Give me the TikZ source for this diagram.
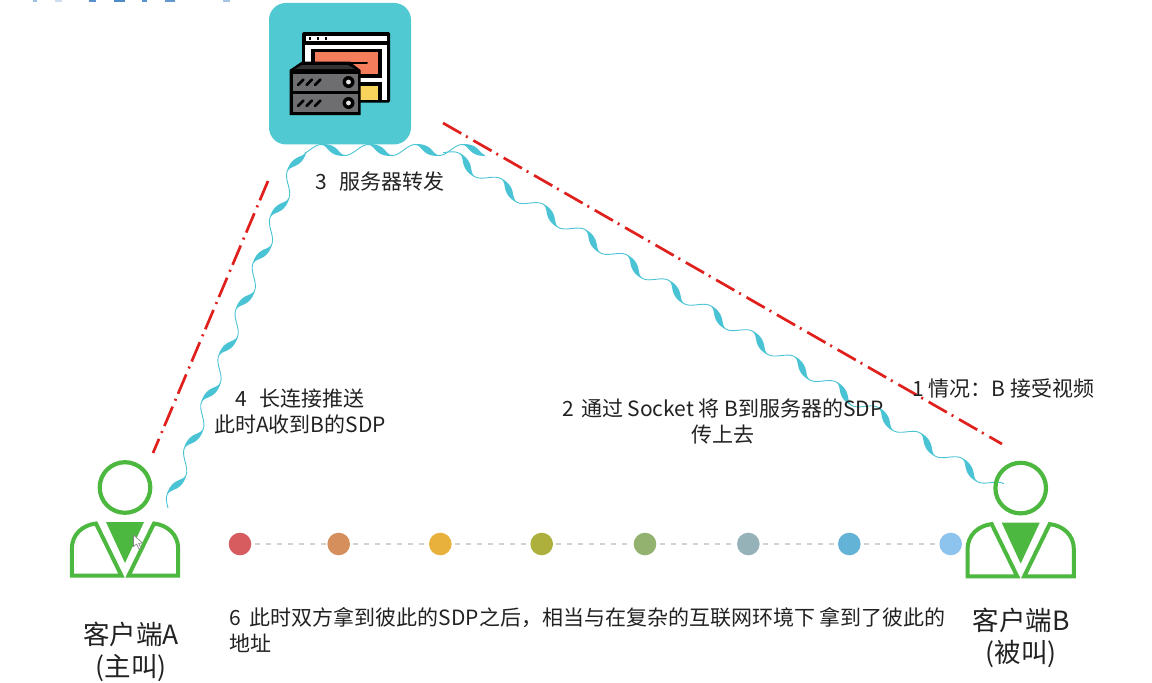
\documentclass[tikz,border=0pt]{standalone}
\usepackage{fontspec}
\setmainfont{Noto Sans CJK SC}
\usetikzlibrary{calc}
\definecolor{wavec}{HTML}{4AC4D4}
\definecolor{boxc}{HTML}{50C9D2}
\definecolor{redc}{HTML}{E0201C}
\definecolor{greenc}{HTML}{4DB83F}
\definecolor{txt}{HTML}{222222}
\definecolor{dashc}{HTML}{D3D3CD}
\definecolor{panel}{HTML}{6E6E70}
\definecolor{orangec}{HTML}{F47E5C}
\definecolor{yellowc}{HTML}{F9D45C}
\definecolor{titleb}{HTML}{3A7FC4}
\tikzset{
  label text/.style={inner sep=0pt,text=txt,align=center,font=\fontsize{21}{26}\selectfont},
  client text/.style={inner sep=0pt,text=txt,align=center,font=\fontsize{26.5}{32.5}\selectfont},
  guide/.style={draw=redc,line width=2.7pt,dash pattern=on 21pt off 5.5pt on 2pt off 6.5pt},
  dotnode/.style={circle,minimum size=22.6pt,inner sep=0pt,fill=#1},
  dotlink/.style={draw=dashc,line width=2.5pt,dash pattern=on 5pt off 6pt},
  person/.pic={
    \draw[greenc,line width=4.2pt] (0,-34.5) circle (25.3);
    \fill[greenc] (-19,0) -- (19,0) -- (0,41) -- cycle;
    \draw[greenc,line width=4pt,line join=miter]
      (-53.2,53.7) -- (-53.2,27) .. controls (-53.2,12) and (-42,3) .. (-29,1.5) -- (-3.5,53.7) -- cycle;
    \draw[greenc,line width=4pt,line join=miter]
      (53.2,53.7) -- (53.2,27) .. controls (53.2,12) and (42,3) .. (29,1.5) -- (3.5,53.7) -- cycle;
  }
}
% ribbon between two named coordinates: from, to, periods, amplitude, phase at start
\newcommand{\ribbon}[5]{%
  \begingroup
  \pgfpointanchor{#1}{center}\pgfgetlastxy{\rax}{\ray}%
  \pgfmathsetmacro{\rXa}{\rax}\pgfmathsetmacro{\rYa}{0-(\ray)}%
  \pgfpointanchor{#2}{center}\pgfgetlastxy{\rbx}{\rby}%
  \pgfmathsetmacro{\rXb}{\rbx}\pgfmathsetmacro{\rYb}{0-(\rby)}%
  \pgfmathsetmacro{\rUx}{(\rXb-\rXa)/#3}%
  \pgfmathsetmacro{\rUy}{(\rYb-\rYa)/#3}%
  \pgfmathsetmacro{\rL}{veclen(\rUx,\rUy)}%
  \pgfmathsetmacro{\rEx}{\rUx/\rL}%
  \pgfmathsetmacro{\rEy}{\rUy/\rL}%
  \pgfmathsetmacro{\rK}{#4*6.2832/\rL}%
  \begin{scope}[declare function={
      rph(\t)=360*(\t+#5);
      rs(\t)=\rK*cos(rph(\t));
      rc(\t)=max(cos(rph(\t)),0);
      rw(\t)=0.45+2.7*rc(\t)*rc(\t);
      rd(\t)=sqrt(1+rs(\t)*rs(\t));
      cx(\t)=\rXa+\rUx*\t-\rEy*#4*sin(rph(\t));
      cy(\t)=\rYa+\rUy*\t+\rEx*#4*sin(rph(\t));
      ox(\t)=(-rs(\t)*\rEx-\rEy)/rd(\t);
      oy(\t)=(-rs(\t)*\rEy+\rEx)/rd(\t);
    }]
    \pgfmathtruncatemacro{\rN}{24*#3+2}%
    \fill[wavec] plot[domain=0:#3,samples=\rN] ({cx(\x)+rw(\x)*ox(\x)},{cy(\x)+rw(\x)*oy(\x)})
      -- plot[domain=#3:0,samples=\rN] ({cx(\x)-rw(\x)*ox(\x)},{cy(\x)-rw(\x)*oy(\x)}) -- cycle;
  \end{scope}
  \endgroup
}
\begin{document}
\begin{tikzpicture}[x=1pt,y=-1pt]
\useasboundingbox (0,0) rectangle (1152,683);
\fill[white] (0,0) rectangle (1152,683);

% remains of a cut-off title at the upper edge
\foreach \a/\b/\o in {33/37/.5,55/62/.25,89/96/.85,114/125/.9,142/147/.85,165/175/.8,223/230/.45}
  \fill[titleb,opacity=\o] (\a,0) rectangle (\b,1.8);

% named ends of the connectors
\coordinate (guideAs) at (268,181);
\coordinate (guideAe) at (153,453);
\coordinate (guideBs) at (443,123);
\coordinate (guideBe) at (1002,444);
\coordinate (waveAs) at (168,508);
\coordinate (waveAe) at (301,150);
\coordinate (waveBs) at (1001,489);
\coordinate (waveBe) at (444,151);
\coordinate (waveTs) at (305,150);
\coordinate (waveTe) at (485,150);

\draw[guide] (guideBs) -- (guideBe);
\draw[guide] (guideAs) -- (guideAe);

\ribbon{waveAe}{waveAs}{7.75}{5.5}{-0.25}
\ribbon{waveBe}{waveBs}{13.3}{6}{-0.55}
\ribbon{waveTs}{waveTe}{3.83}{5.5}{-0.6}

% server tile
\node[draw=none,fill=boxc,rounded corners=17pt,minimum width=142pt,minimum height=141.5pt,inner sep=0pt] (server) at (340,73.7) {};
% window
\fill[black,rounded corners=1.5pt] (302,32) rectangle (390,102.7);
\fill[white] (305.5,36) rectangle (387,40.7);
\fill[white] (305,44.5) rectangle (387,100);
\fill[black] (311,48.5) rectangle (381.7,100);
\fill[orangec] (314.5,52.3) rectangle (378,74);
\fill[white] (340,78) rectangle (381.7,82);
\fill[yellowc] (355,86) rectangle (378,99.5);
\foreach \d in {310,318,326} \fill[black] (\d-.7,36.5) rectangle (\d+.7,40.2);
\draw[black,line width=2pt,line cap=round] (314,63) -- (367,63);
% server
\fill[black] (289.5,70) -- (302,61.5) -- (350,61.5) -- (354,65) -- (360.5,70) -- (360.5,115) -- (289.5,115) -- cycle;
\fill[black!80] (295,69) -- (302,65) -- (348,65) -- (355,69) -- cycle;
\fill[panel] (292.7,73.5) rectangle (357.5,90.5);
\fill[panel] (292.7,94) rectangle (357.5,112);
\foreach \yy in {82,103} {
  \fill[black] (348.5,\yy) circle (6);
  \fill[white!90!black] (348.5,\yy) circle (2.4);
  \foreach \s in {301,309.5,318}
    \draw[black,line width=2.6pt,line cap=round] (\s-3,\yy+3) -- (\s+2.5,\yy-2.5);
}

% persons
\pic (personA) at (125,522) {person};
\pic (personB) at (1020.7,522.6) {person};

% mouse pointer
\draw[gray,fill=white,line width=.6pt,line join=round] (133.5,535) -- (133.5,546.5) -- (136.6,544) -- (139,549) -- (141,548) -- (138.6,543.4) -- (142.5,543) -- cycle;

% timeline
\foreach \n/\xx/\c in {d1/240/D65C5F,d2/338.7/D48F5C,d3/440.3/E8B13B,d4/541.7/ADB03C,d5/645/93B16F,d6/748.3/94B2B8,d7/849.3/62B3D6,d8/950.7/8DC4EE}{
  \definecolor{tmpc}{HTML}{\c}
  \node[dotnode=tmpc] (\n) at (\xx,544) {};
}
\foreach \a/\b in {d1/d2,d2/d3,d3/d4,d4/d5,d5/d6,d6/d7,d7/d8}
  \path[dotlink] (\a.east) ++(3,0) -- ($(\b.west)+(-1,0)$);

% labels
\node[label text,anchor=west] (t3) at (315,181.5) {3\hspace{13pt}服务器转发};
\node[label text] (t4) at (300,412) {4\hspace{13pt}长连接推送\hspace{6pt}\\此时A收到B的SDP};
\node[label text] (t2) at (723,421) {2\hspace{7pt}通过 Socket 将 B到服务器的SDP\\传上去};
\node[label text,anchor=west] (t1) at (912,389) {1 情况：B 接受视频};
\node[label text,anchor=north west,align=left] (t6) at (229,607.5) {6\hspace{9pt}此时双方拿到彼此的SDP之后，相当与在复杂的互联网环境下 拿到了彼此的\\地址};
\node[client text] (ca) at (131,652) {客户端A\\(主叫)};
\node[client text] (cb) at (1021,638) {客户端B\\(被叫)};
\end{tikzpicture}
\end{document}
